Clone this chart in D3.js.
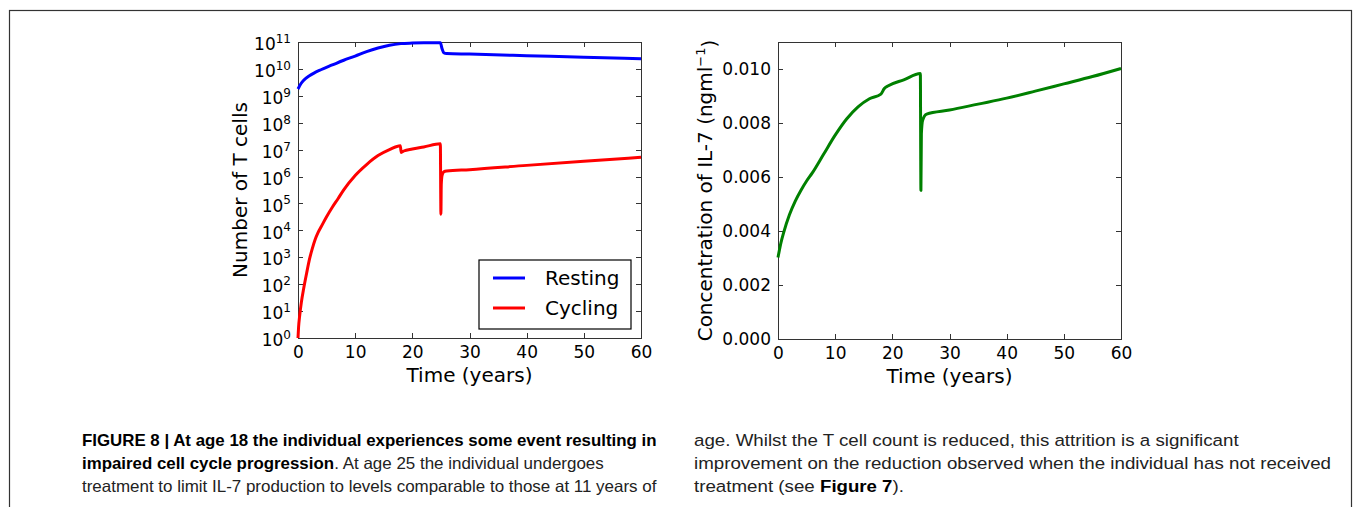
<!DOCTYPE html>
<html>
<head>
<meta charset="UTF-8">
<title>Figure 8</title>
<script src="https://cdn.jsdelivr.net/npm/d3@7"></script>
<style>
  body { margin: 0; background: #fff; }
  .axis path, .axis line { stroke: #333; shape-rendering: crispEdges; }
  .axis text { font-family: 'DejaVu Sans', sans-serif; font-size: 17px; fill: #000; }
  .etiqueta { font-family: 'DejaVu Sans', sans-serif; font-size: 20px; fill: #000; }
  .leyenda { font-family: 'DejaVu Sans', sans-serif; font-size: 20px; fill: #000; }
  .pie { font-family: 'Liberation Sans', Arial, sans-serif; font-size: 16.5px; fill: #222; white-space: pre; }
  .pie.negrita { font-weight: bold; fill: #000; }
</style>
</head>
<body>
<svg id="figura" width="1354" height="507"></svg>
<script>
// ---- datos ----
var xTicks = [0, 10, 20, 30, 40, 50, 60];
var logTicks = [0, 1, 2, 3, 4, 5, 6, 7, 8, 9, 10, 11];
var il7Ticks = [0, 0.002, 0.004, 0.006, 0.008, 0.010];

var restingYears = [0, 0.5, 1, 2, 3, 4, 6, 8, 10, 12, 14, 16, 18, 20, 22, 24.9, 25.2, 25.5, 26, 30, 40, 50, 60];
var restingCells = [1.8e9, 2.8e9, 3.8e9, 5.6e9, 7.4e9, 9.3e9, 1.4e10, 2.1e10, 3.0e10, 4.4e10, 6.0e10, 7.6e10, 8.7e10, 9.1e10, 9.3e10, 9.3e10, 5.6e10, 4.0e10, 3.7e10, 3.55e10, 3.1e10, 2.7e10, 2.4e10];

var cyclingYears = [0, 0.1, 0.3, 0.6, 1, 1.5, 2, 2.5, 3, 3.5, 4, 5, 6, 7, 8, 10, 12, 14, 16, 17.9, 18.05, 18.5, 20, 22, 24.9, 25, 25.06, 25.2, 25.5, 26, 30, 40, 50, 60];
var cyclingCells = [1, 2.5, 7, 22, 70, 250, 830, 2100, 4600, 8300, 1.3e4, 3.2e4, 7.2e4, 1.5e5, 3.2e5, 1.1e6, 2.8e6, 6.0e6, 1.0e7, 1.4e7, 7.9e6, 8.9e6, 1.05e7, 1.25e7, 1.65e7, 4.0e4, 5.0e5, 1.1e6, 1.5e6, 1.6e6, 1.8e6, 2.6e6, 3.7e6, 5.2e6];

var il7Years = [0, 0.5, 1, 2, 3, 4, 5, 6, 8, 10, 12, 14, 16, 18, 18.6, 19.3, 22, 24.9, 25, 25.08, 25.3, 26, 30, 35, 40, 45, 50, 55, 60];
var il7Conc = [0.00302, 0.00355, 0.00395, 0.0046, 0.0051, 0.0055, 0.00585, 0.00615, 0.00685, 0.00755, 0.00815, 0.0086, 0.0089, 0.00907, 0.00928, 0.00938, 0.0096, 0.00983, 0.0055, 0.0076, 0.0081, 0.00833, 0.00848, 0.0087, 0.00892, 0.00918, 0.00945, 0.00972, 0.01002];

var series = ["Resting", "Cycling"];
var colores = ["#0000ff", "#ff0000"];

var pieIzq = [
  [{t: "FIGURE 8 | At age 18 the individual experiences some event resulting in", b: true}],
  [{t: "impaired cell cycle progression", b: true}, {t: ". At age 25 the individual undergoes", b: false}],
  [{t: "treatment to limit IL-7 production to levels comparable to those at 11 years of", b: false}]
];
var pieDer = [
  [{t: "age. Whilst the T cell count is reduced, this attrition is a significant", b: false}],
  [{t: "improvement on the reduction observed when the individual has not received", b: false}],
  [{t: "treatment (see ", b: false}, {t: "Figure 7", b: true}, {t: ").", b: false}]
];

var svg = d3.select("#figura");

// marco exterior
svg.append("rect")
  .attr("x", 9.5).attr("y", 10.5)
  .attr("width", 1342).attr("height", 600)
  .attr("fill", "none").attr("stroke", "#333").attr("stroke-width", 1.2);

function zip(xs, ys) {
  return xs.map(function(x, i) { return [x, ys[i]]; });
}

// dibuja ejes con ticks hacia dentro en los cuatro lados
function ejes(g, x, y, w, h, yTicks, yFormato) {
  g.append("g").attr("class", "axis")
    .attr("transform", "translate(0," + h + ")")
    .call(d3.axisBottom(x).tickValues(xTicks).tickSize(-5).tickPadding(8).tickFormat(d3.format("d")));
  g.append("g").attr("class", "axis")
    .call(d3.axisTop(x).tickValues(xTicks).tickSize(-5).tickFormat(""));
  var izq = g.append("g").attr("class", "axis")
    .call(d3.axisLeft(y).tickValues(yTicks).tickSize(-5).tickPadding(7).tickFormat(yFormato));
  g.append("g").attr("class", "axis")
    .attr("transform", "translate(" + w + ",0)")
    .call(d3.axisRight(y).tickValues(yTicks).tickSize(-5).tickFormat(""));
  g.selectAll(".axis path").attr("stroke-width", 1.6);
  g.selectAll(".axis .tick line").attr("stroke", "#555");
  return izq;
}

// ---- panel izquierdo ----
var w1 = 343, h1 = 296;
var g1 = svg.append("g").attr("transform", "translate(298,42)");
var x1 = d3.scaleLinear().domain([0, 60]).range([0, w1]);
var y1 = d3.scaleLog().domain([1, 1e11]).range([h1, 0]);

var lineaLog = d3.line()
  .x(function(d) { return x1(d[0]); })
  .y(function(d) { return y1(d[1]); })
  .curve(d3.curveMonotoneX);

var izq1 = ejes(g1, x1, y1, w1, h1, logTicks.map(function(e) { return Math.pow(10, e); }), function() { return ""; });
izq1.selectAll(".tick text").each(function(d, i) {
  var t = d3.select(this).text("10").attr("dy", "0.45em");
  t.append("tspan").attr("dy", "-0.6em").attr("font-size", "12px").text(logTicks[i]);
});

[zip(restingYears, restingCells), zip(cyclingYears, cyclingCells)].forEach(function(s, i) {
  g1.append("path").datum(s)
    .attr("d", lineaLog)
    .attr("fill", "none")
    .attr("stroke", colores[i])
    .attr("stroke-width", 3)
    .attr("stroke-linejoin", "round");
});

g1.append("text").attr("class", "etiqueta")
  .attr("text-anchor", "middle")
  .attr("x", w1 / 2).attr("y", 340)
  .text("Time (years)");
g1.append("text").attr("class", "etiqueta")
  .attr("text-anchor", "middle")
  .attr("transform", "translate(-51," + (h1 / 2) + ") rotate(-90)")
  .text("Number of T cells");

// leyenda
var ley = g1.append("g").attr("transform", "translate(181,218)");
ley.append("rect").attr("width", 152).attr("height", 69)
  .attr("fill", "#fff").attr("stroke", "#000").attr("stroke-width", 1.2);
series.forEach(function(s, i) {
  ley.append("line")
    .attr("x1", 14).attr("x2", 46)
    .attr("y1", 18 + i * 30).attr("y2", 18 + i * 30)
    .attr("stroke", colores[i]).attr("stroke-width", 3);
  ley.append("text").attr("class", "leyenda")
    .attr("x", 66).attr("y", 25 + i * 30)
    .text(s);
});

// ---- panel derecho ----
var w2 = 343, h2 = 297;
var g2 = svg.append("g").attr("transform", "translate(778,42)");
var x2 = d3.scaleLinear().domain([0, 60]).range([0, w2]);
var y2 = d3.scaleLinear().domain([0, 0.011]).range([h2, 0]);

ejes(g2, x2, y2, w2, h2, il7Ticks, d3.format(".3f"));

g2.append("path").datum(zip(il7Years, il7Conc))
  .attr("d", d3.line()
    .x(function(d) { return x2(d[0]); })
    .y(function(d) { return y2(d[1]); })
    .curve(d3.curveMonotoneX))
  .attr("fill", "none")
  .attr("stroke", "#008000")
  .attr("stroke-width", 3)
  .attr("stroke-linejoin", "round");

g2.append("text").attr("class", "etiqueta")
  .attr("text-anchor", "middle")
  .attr("x", w2 / 2).attr("y", 341)
  .text("Time (years)");
var lab2 = g2.append("text").attr("class", "etiqueta")
  .attr("text-anchor", "middle")
  .attr("transform", "translate(-66," + (h2 / 2) + ") rotate(-90)");
lab2.append("tspan").text("Concentration of IL-7 (ngml");
lab2.append("tspan").attr("dy", "-0.55em").attr("font-size", "13px").text("\u22121");
lab2.append("tspan").attr("dy", "0.55em").text(")");

// ---- pie de figura ----
// la letra del original es estrecha: se estima una escala horizontal
// para negrita y otra para normal a partir de las lineas completas
function anchoNatural(texto, negrita) {
  var t = svg.append("text").attr("class", negrita ? "pie negrita" : "pie").text(texto);
  var w = t.node().getComputedTextLength();
  t.remove();
  return w;
}
var kNegrita = 575 / anchoNatural(pieIzq[0][0].t, true);
var kNormalIzq = 575 / anchoNatural(pieIzq[2][0].t, false);
var kNormalDer = d3.mean([543 / anchoNatural(pieDer[0][0].t, false), 640 / anchoNatural(pieDer[1][0].t, false)]);
var kNegritaDer = kNormalDer * kNegrita / kNormalIzq;

function columnaPie(lineas, x0, kN, kB) {
  lineas.forEach(function(partes, i) {
    var x = x0, y = 446 + i * 23;
    partes.forEach(function(p) {
      var k = p.b ? kB : kN;
      var t = svg.append("text").attr("class", p.b ? "pie negrita" : "pie").text(p.t);
      var w = t.node().getComputedTextLength();
      t.attr("transform", "translate(" + x + "," + y + ") scale(" + k + ",1)");
      x += w * k;
    });
  });
}
columnaPie(pieIzq, 82, kNormalIzq, kNegrita);
columnaPie(pieDer, 694, kNormalDer, kNegritaDer);
</script>
</body>
</html>
